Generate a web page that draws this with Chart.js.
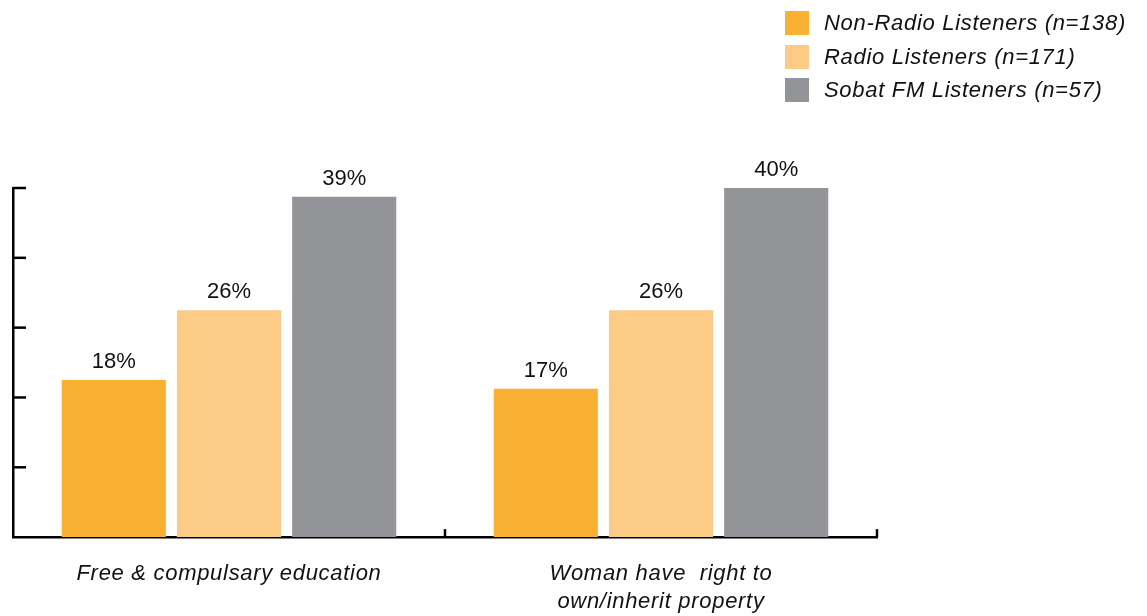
<!DOCTYPE html>
<html>
<head>
<meta charset="utf-8">
<script src="https://cdn.jsdelivr.net/npm/chart.js@4.4.1/dist/chart.umd.min.js"></script>
<style>
  html, body { margin:0; padding:0; background:#fff; }
  #wrap { position:relative; width:1147px; height:616px; }
  #legend { position:absolute; left:785px; top:11px; font-family:"Liberation Sans", Arial, sans-serif; font-style:italic; font-size:22px; letter-spacing:0.7px; color:#111; }
  #legend .item { display:flex; align-items:center; height:24px; margin-bottom:9.5px; white-space:nowrap; }
  #legend .box { width:24px; height:24px; margin-right:15px; }
</style>
</head>
<body>
<div id="wrap">
  <canvas id="chart" width="1147" height="616"></canvas>
  <div id="legend"></div>
</div>
<script>
// Data
const categories = [['Free & compulsary education'], ['Woman have  right to', 'own/inherit property']];
const seriesNames = ['Non-Radio Listeners (n=138)', 'Radio Listeners (n=171)', 'Sobat FM Listeners (n=57)'];
const nonRadio = [18, 17];
const radio = [26, 26];
const sobatFM = [39, 40];
const colors = ['#FAB033', '#FCCC86', '#939497'];

const FONT = '"Liberation Sans", Arial, sans-serif';

// Legend (html)
document.getElementById('legend').innerHTML = seriesNames.map((n, i) =>
  `<div class="item"><span class="box" style="background:${colors[i]}"></span>${n}</div>`).join('');

// wider letters for the axis labels, like the original's Helvetica
const spacing = {
  id: 'spacing',
  beforeDraw(chart){ chart.ctx.letterSpacing = '0.7px'; }
};

// draws inward y ticks, category boundary ticks and value labels
const decor = {
  id: 'decor',
  afterDatasetsDraw(chart){
    const ctx = chart.ctx;
    const y = chart.scales.y, x = chart.scales.x;
    const area = chart.chartArea;
    ctx.save();
    ctx.strokeStyle = '#000';
    ctx.lineWidth = 2.5;
    y.ticks.forEach(t => {
      const py = y.getPixelForValue(t.value);
      if (t.value === 0) return;
      ctx.beginPath(); ctx.moveTo(area.left, py); ctx.lineTo(area.left + 13, py); ctx.stroke();
    });
    const step = x.getPixelForTick(1) - x.getPixelForTick(0);
    for (let i = 0; i < categories.length; i++) {
      const px = x.getPixelForTick(i) + step / 2;
      ctx.beginPath(); ctx.moveTo(px, area.bottom); ctx.lineTo(px, area.bottom - 8); ctx.stroke();
    }
    ctx.letterSpacing = '0px';
    ctx.fillStyle = '#111';
    ctx.font = '22px ' + FONT;
    ctx.textAlign = 'center';
    ctx.textBaseline = 'bottom';
    chart.data.datasets.forEach((ds, di) => {
      chart.getDatasetMeta(di).data.forEach((bar, i) => {
        ctx.fillText(ds.data[i] + '%', bar.x, bar.y - 7);
      });
    });
    ctx.restore();
  }
};

new Chart(document.getElementById('chart').getContext('2d'), {
  type: 'bar',
  data: {
    labels: categories,
    datasets: [
      { label: seriesNames[0], data: nonRadio, backgroundColor: colors[0] },
      { label: seriesNames[1], data: radio, backgroundColor: colors[1] },
      { label: seriesNames[2], data: sobatFM, backgroundColor: colors[2] }
    ]
  },
  options: {
    responsive: false,
    animation: false,
    categoryPercentage: 0.8,
    barPercentage: 0.904,
    layout: { padding: { top: 188, right: 270, left: 5, bottom: -15 } },
    plugins: { legend: { display: false }, tooltip: { enabled: false } },
    scales: {
      x: {
        grid: { display: false },
        border: { display: true, color: '#000', width: 2.5 },
        ticks: { color: '#111', font: { family: FONT, size: 22, style: 'italic', lineHeight: 1.27 }, padding: 15, maxRotation: 0, autoSkip: false }
      },
      y: {
        min: 0, max: 40,
        ticks: { display: false, stepSize: 8 },
        grid: { display: false },
        border: { display: true, color: '#000', width: 2.5 }
      }
    }
  },
  plugins: [spacing, decor]
});
</script>
</body>
</html>
